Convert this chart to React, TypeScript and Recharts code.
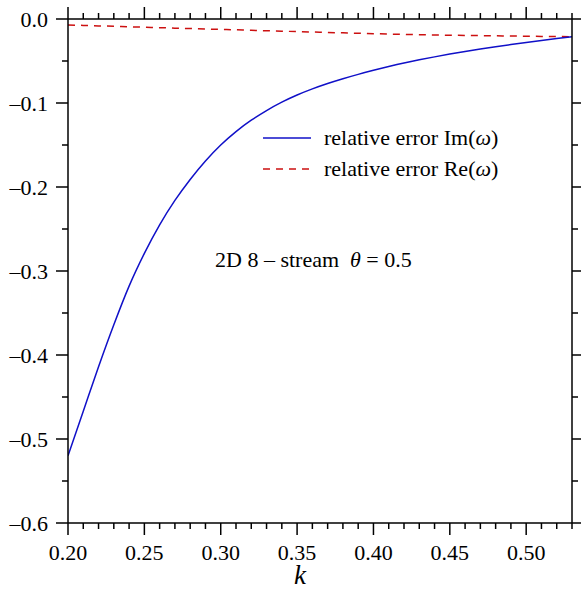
import { Customized, Line, LineChart, XAxis, YAxis } from 'recharts'

// wave number k
const kValues = [
  0.2, 0.21, 0.22, 0.23, 0.24, 0.25, 0.26, 0.27, 0.28, 0.29, 0.3, 0.31, 0.32,
  0.33, 0.34, 0.35, 0.36, 0.37, 0.38, 0.39, 0.4, 0.41, 0.42, 0.43, 0.44, 0.45,
  0.46, 0.47, 0.48, 0.49, 0.5, 0.51, 0.52, 0.53,
]

// relative error of Im(omega)
const imError = [
  -0.52, -0.467, -0.414, -0.364, -0.318, -0.279, -0.245, -0.216, -0.191,
  -0.169, -0.15, -0.134, -0.1205, -0.109, -0.099, -0.0905, -0.0832, -0.0768,
  -0.0711, -0.0659, -0.0611, -0.0566, -0.0524, -0.0486, -0.0451, -0.0418,
  -0.0387, -0.0358, -0.033, -0.0304, -0.0279, -0.0255, -0.0232, -0.021,
]

// relative error of Re(omega)
const reError = [
  -0.0071, -0.0076, -0.0082, -0.0087, -0.0093, -0.0098, -0.0103, -0.0109,
  -0.0114, -0.0119, -0.0124, -0.0129, -0.0135, -0.014, -0.0145, -0.015,
  -0.0155, -0.016, -0.0165, -0.017, -0.0175, -0.0179, -0.0183, -0.0187,
  -0.019, -0.0193, -0.0196, -0.0198, -0.02, -0.0203, -0.0205, -0.0207,
  -0.0209, -0.0211,
]

const xTicks = kValues
const yTicks = [
  0, -0.05, -0.1, -0.15, -0.2, -0.25, -0.3, -0.35, -0.4, -0.45, -0.5, -0.55,
  -0.6,
]

const data = kValues.map((k, i) => ({ k, im: imError[i], re: reError[i] }))

const FONT = '"Liberation Serif", "DejaVu Serif", serif'
const BLUE = '#1010c8'
const RED = '#cc1010'
const MAJOR = 12
const MINOR = 6
const txt = { fontFamily: FONT, fontSize: 22, fill: '#000' }

const isMajorX = (v: number) => Math.round(v * 100) % 5 === 0
const isMajorY = (v: number) => Math.round(v * 100) % 10 === 0
const fmtY = (v: number) => (v === 0 ? '0.0' : '\u2013' + Math.abs(v).toFixed(1))

function BottomTick(props: any) {
  const { x, y, payload } = props
  const major = isMajorX(payload.value)
  return (
    <g>
      <line x1={x} x2={x} y1={y} y2={y + (major ? MAJOR : MINOR)} stroke="#000" strokeWidth={1.5} />
      {major && (
        <text x={x} y={y + 37} textAnchor="middle" style={txt}>
          {payload.value.toFixed(2)}
        </text>
      )}
    </g>
  )
}

function TopTick(props: any) {
  const { x, y, payload } = props
  const major = isMajorX(payload.value)
  return <line x1={x} x2={x} y1={y} y2={y - (major ? MAJOR : MINOR)} stroke="#000" strokeWidth={1.5} />
}

function LeftTick(props: any) {
  const { x, y, payload } = props
  const major = isMajorY(payload.value)
  return (
    <g>
      <line x1={x} x2={x - (major ? MAJOR : MINOR)} y1={y} y2={y} stroke="#000" strokeWidth={1.5} />
      {major && (
        <text x={x - 20} y={y + 7.5} textAnchor="end" style={txt}>
          {fmtY(payload.value)}
        </text>
      )}
    </g>
  )
}

function RightTick(props: any) {
  const { x, y, payload } = props
  const major = isMajorY(payload.value)
  return <line x1={x} x2={x + (major ? MAJOR : MINOR)} y1={y} y2={y} stroke="#000" strokeWidth={1.5} />
}

function Annotations() {
  return (
    <g>
      <line x1={263} x2={311} y1={138} y2={138} stroke={BLUE} strokeWidth={1.5} />
      <text x={324} y={145} style={txt}>
        relative error Im(<tspan style={{ fontStyle: 'italic' }}>ω</tspan>)
      </text>
      <line x1={263} x2={311} y1={169} y2={169} stroke={RED} strokeWidth={1.5} strokeDasharray="7 6" />
      <text x={324} y={176} style={txt}>
        relative error Re(<tspan style={{ fontStyle: 'italic' }}>ω</tspan>)
      </text>
      <text x={215} y={267} style={txt}>
        2D 8 – stream
        <tspan dx={11} style={{ fontStyle: 'italic' }}>θ</tspan>
        <tspan> = 0.5</tspan>
      </text>
      <text x={300} y={584} textAnchor="middle" style={{ ...txt, fontSize: 27, fontStyle: 'italic' }}>
        k
      </text>
    </g>
  )
}

export default function App() {
  return (
    <div style={{ position: 'absolute', left: 0, top: 0, background: '#fff' }}>
      <LineChart width={581} height={591} data={data} margin={{ top: 0, right: 0, bottom: 0, left: 0 }}>
        <XAxis
          dataKey="k"
          type="number"
          domain={[0.2, 0.53]}
          ticks={xTicks}
          interval={0}
          allowDataOverflow
          height={68}
          tickSize={0}
          tickMargin={0}
          tickLine={false}
          axisLine={{ stroke: '#000', strokeWidth: 1.5 }}
          tick={BottomTick}
        />
        <XAxis
          xAxisId="top"
          orientation="top"
          dataKey="k"
          type="number"
          domain={[0.2, 0.53]}
          ticks={xTicks}
          interval={0}
          allowDataOverflow
          height={19}
          tickSize={0}
          tickMargin={0}
          tickLine={false}
          axisLine={{ stroke: '#000', strokeWidth: 1.5 }}
          tick={TopTick}
        />
        <YAxis
          type="number"
          domain={[-0.6, 0]}
          ticks={yTicks}
          interval={0}
          allowDataOverflow
          width={68}
          tickSize={0}
          tickMargin={0}
          tickLine={false}
          axisLine={{ stroke: '#000', strokeWidth: 1.5 }}
          tick={LeftTick}
        />
        <YAxis
          yAxisId="right"
          orientation="right"
          type="number"
          domain={[-0.6, 0]}
          ticks={yTicks}
          interval={0}
          allowDataOverflow
          width={9}
          tickSize={0}
          tickMargin={0}
          tickLine={false}
          axisLine={{ stroke: '#000', strokeWidth: 1.5 }}
          tick={RightTick}
        />
        <Line
          dataKey="re"
          type="monotone"
          stroke={RED}
          strokeWidth={1.5}
          strokeDasharray="7 6"
          dot={false}
          isAnimationActive={false}
        />
        <Line
          dataKey="im"
          type="monotone"
          stroke={BLUE}
          strokeWidth={1.5}
          dot={false}
          isAnimationActive={false}
        />
        <Customized component={Annotations} />
      </LineChart>
    </div>
  )
}
